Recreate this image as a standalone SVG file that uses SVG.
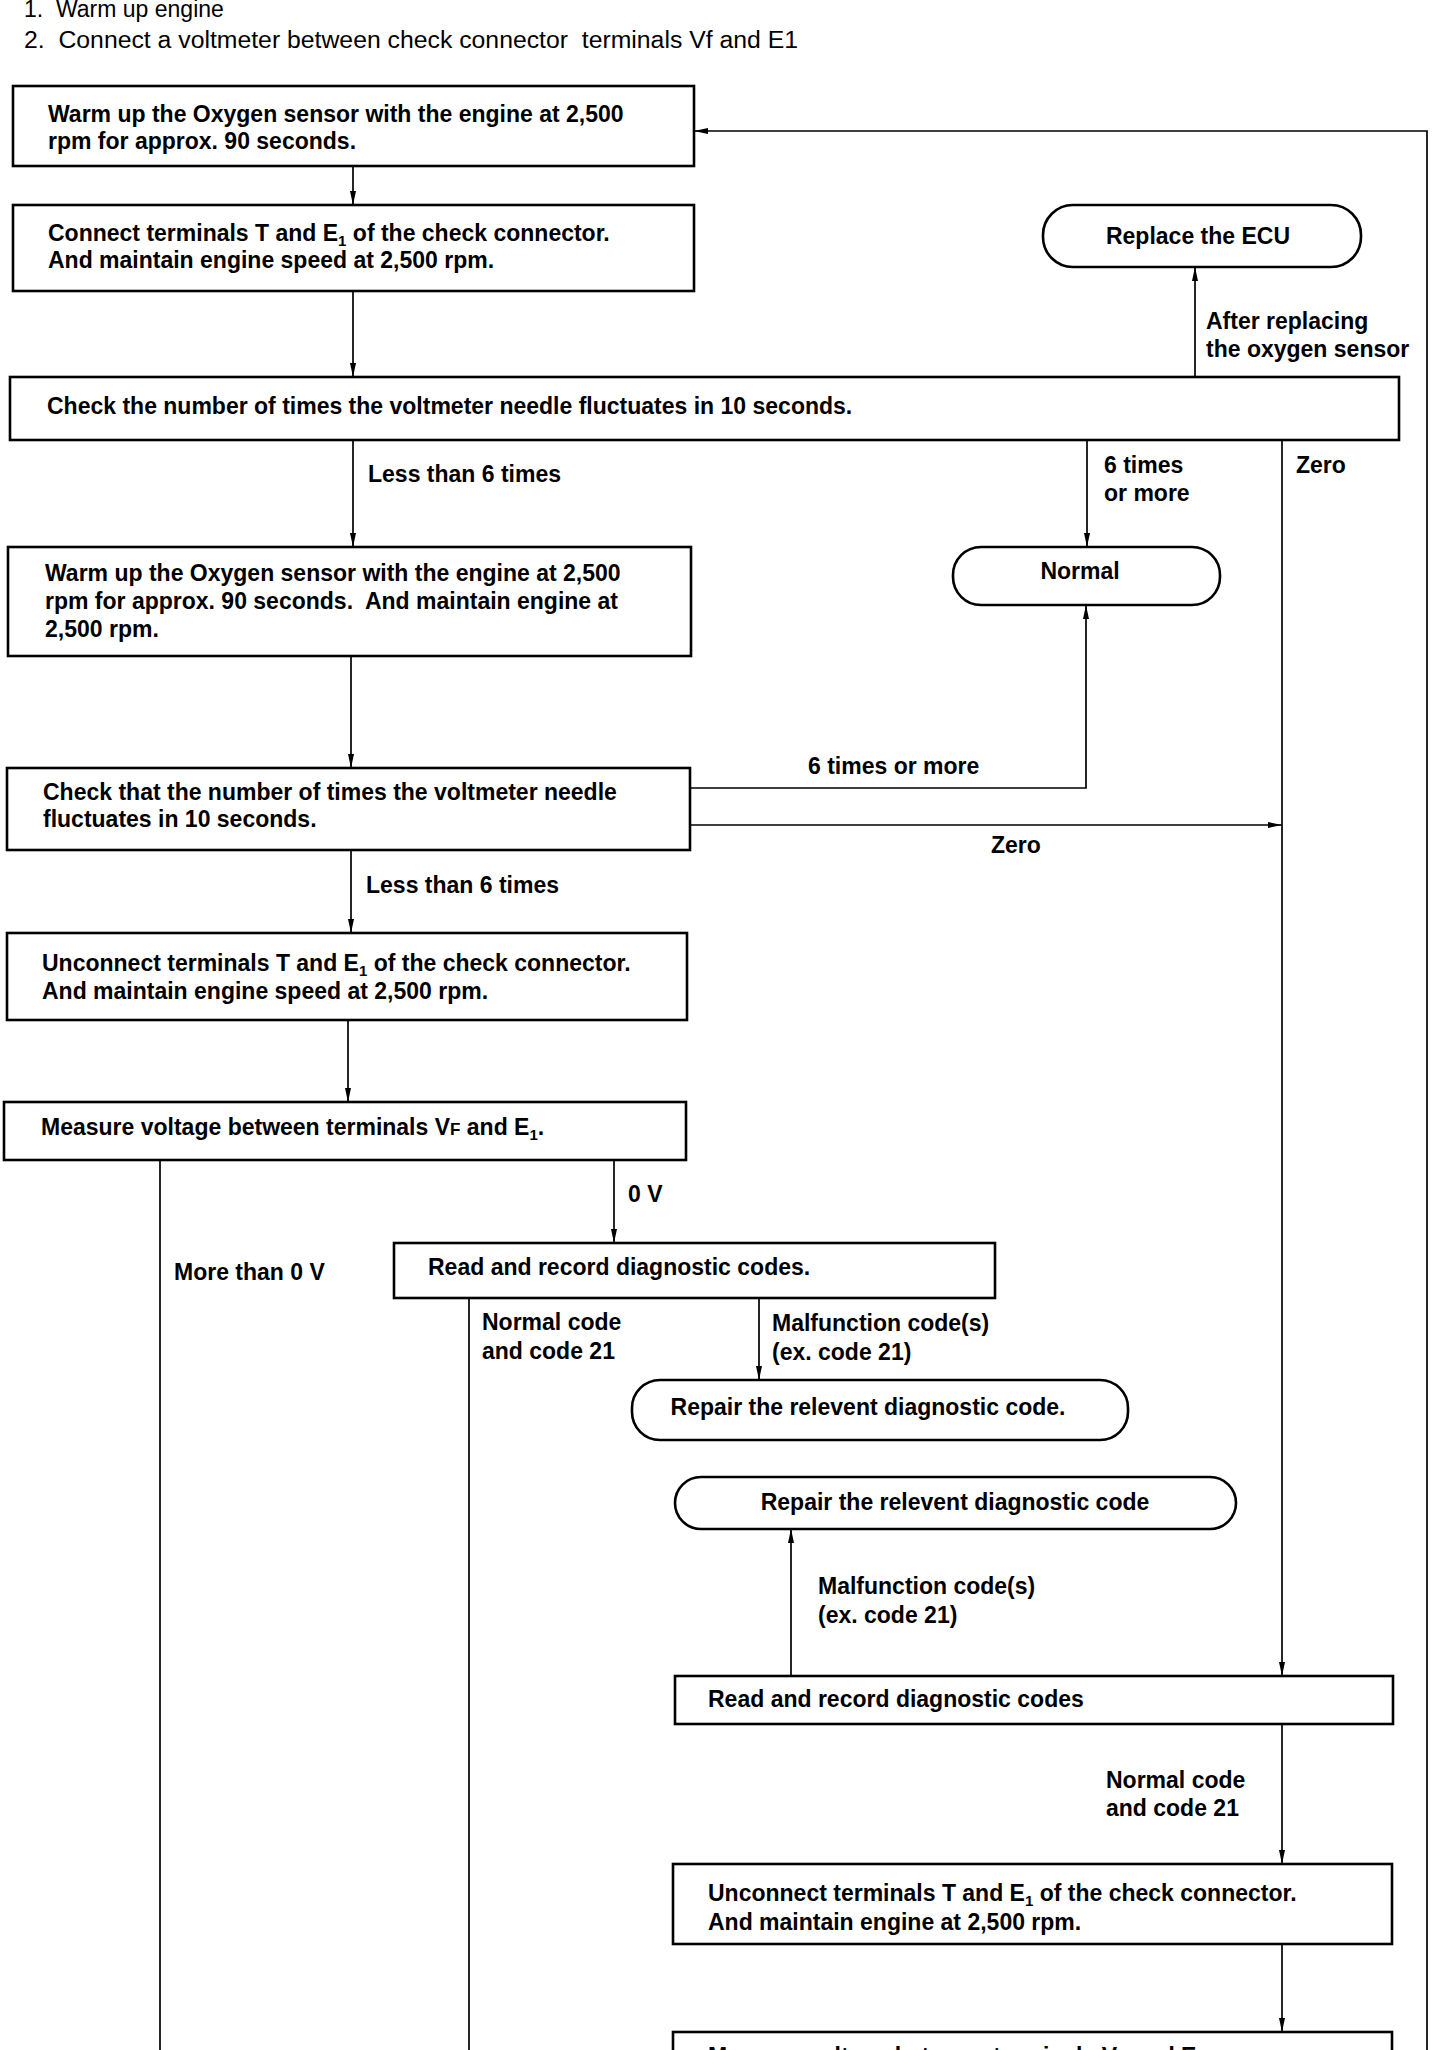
<svg xmlns="http://www.w3.org/2000/svg" width="1440" height="2050" viewBox="0 0 1440 2050">
<style>
.bg{fill:#fff}
.box{fill:#fff;stroke:#000;stroke-width:2.6}
.c{fill:none;stroke:#000;stroke-width:1.7}
.t{font-family:"Liberation Sans",Arial,sans-serif;font-weight:bold;font-size:23px;fill:#000}
.h{font-family:"Liberation Sans",Arial,sans-serif;font-size:23px;fill:#000}
.m{text-anchor:middle}
.s{font-size:15px}
.sc{font-size:17px}
</style>
<defs>
<marker id="a" viewBox="0 0 14 7" refX="14" refY="3.5" markerWidth="14" markerHeight="7" orient="auto" markerUnits="userSpaceOnUse"><path d="M0,0.5 L14,3.5 L0,6.5 z" fill="#000"/></marker>
</defs>
<rect class="bg" x="0" y="0" width="1440" height="2050"/>
<g id="header">
<text class="h" x="24" y="17" xml:space="preserve">1.  Warm up engine</text>
<text class="h" x="24" y="48" textLength="774" lengthAdjust="spacingAndGlyphs" xml:space="preserve">2.  Connect a voltmeter between check connector  terminals Vf and E1</text>
</g>
<g id="connectors">
<path class="c" d="M353,166 V205" marker-end="url(#a)"/>
<path class="c" d="M353,291 V377" marker-end="url(#a)"/>
<path class="c" d="M1195,377 V267" marker-end="url(#a)"/>
<path class="c" d="M1427,2050 V131 H694" marker-end="url(#a)"/>
<path class="c" d="M353,440 V547" marker-end="url(#a)"/>
<path class="c" d="M1087,440 V547" marker-end="url(#a)"/>
<path class="c" d="M1282,440 V1676" marker-end="url(#a)"/>
<path class="c" d="M351,656 V768" marker-end="url(#a)"/>
<path class="c" d="M690,788 H1086 V605" marker-end="url(#a)"/>
<path class="c" d="M690,825 H1282" marker-end="url(#a)"/>
<path class="c" d="M351,850 V933" marker-end="url(#a)"/>
<path class="c" d="M348,1020 V1102" marker-end="url(#a)"/>
<path class="c" d="M160,1160 V2050"/>
<path class="c" d="M614,1160 V1243" marker-end="url(#a)"/>
<path class="c" d="M469,1298 V2050"/>
<path class="c" d="M759,1298 V1380" marker-end="url(#a)"/>
<path class="c" d="M791,1676 V1529" marker-end="url(#a)"/>
<path class="c" d="M1282,1724 V1864" marker-end="url(#a)"/>
<path class="c" d="M1282,1944 V2032" marker-end="url(#a)"/>
<text class="t" x="1206" y="329">After replacing</text>
<text class="t" x="1206" y="357">the oxygen sensor</text>
<text class="t" x="368" y="482">Less than 6 times</text>
<text class="t" x="1104" y="473">6 times</text>
<text class="t" x="1104" y="501">or more</text>
<text class="t" x="1296" y="473">Zero</text>
<text class="t" x="808" y="774">6 times or more</text>
<text class="t" x="991" y="853">Zero</text>
<text class="t" x="366" y="893">Less than 6 times</text>
<text class="t" x="174" y="1280">More than 0 V</text>
<text class="t" x="628" y="1202">0 V</text>
<text class="t" x="482" y="1330">Normal code</text>
<text class="t" x="482" y="1359">and code 21</text>
<text class="t" x="772" y="1331">Malfunction code(s)</text>
<text class="t" x="772" y="1360">(ex. code 21)</text>
<text class="t" x="818" y="1594">Malfunction code(s)</text>
<text class="t" x="818" y="1623">(ex. code 21)</text>
<text class="t" x="1106" y="1788">Normal code</text>
<text class="t" x="1106" y="1816">and code 21</text>
</g>
<g id="n1">
<rect class="box" x="13" y="86" width="681" height="80"/>
<text class="t" x="48" y="122">Warm up the Oxygen sensor with the engine at 2,500</text>
<text class="t" x="48" y="149">rpm for approx. 90 seconds.</text>
</g>
<g id="n2">
<rect class="box" x="13" y="205" width="681" height="86"/>
<text class="t" x="48" y="241">Connect terminals T and E<tspan class="s" dy="5">1</tspan><tspan dy="-5"> of the check connector.</tspan></text>
<text class="t" x="48" y="268">And maintain engine speed at 2,500 rpm.</text>
</g>
<g id="n_ecu">
<rect class="box" x="1043" y="205" width="318" height="62" rx="30" ry="30"/>
<text class="t m" x="1198" y="244">Replace the ECU</text>
</g>
<g id="n3">
<rect class="box" x="10" y="377" width="1389" height="63"/>
<text class="t" x="47" y="414">Check the number of times the voltmeter needle fluctuates in 10 seconds.</text>
</g>
<g id="n_normal">
<rect class="box" x="953" y="547" width="267" height="58" rx="28" ry="28"/>
<text class="t m" x="1080" y="579">Normal</text>
</g>
<g id="n4">
<rect class="box" x="8" y="547" width="683" height="109"/>
<text class="t" x="45" y="581">Warm up the Oxygen sensor with the engine at 2,500</text>
<text class="t" x="45" y="609" xml:space="preserve">rpm for approx. 90 seconds.  And maintain engine at</text>
<text class="t" x="45" y="637">2,500 rpm.</text>
</g>
<g id="n5">
<rect class="box" x="7" y="768" width="683" height="82"/>
<text class="t" x="43" y="800">Check that the number of times the voltmeter needle</text>
<text class="t" x="43" y="827">fluctuates in 10 seconds.</text>
</g>
<g id="n6">
<rect class="box" x="7" y="933" width="680" height="87"/>
<text class="t" x="42" y="971">Unconnect terminals T and E<tspan class="s" dy="5">1</tspan><tspan dy="-5"> of the check connector.</tspan></text>
<text class="t" x="42" y="999">And maintain engine speed at 2,500 rpm.</text>
</g>
<g id="n7">
<rect class="box" x="4" y="1102" width="682" height="58"/>
<text class="t" x="41" y="1135">Measure voltage between terminals V<tspan class="sc">F</tspan> and E<tspan class="s" dy="5">1</tspan><tspan dy="-5">.</tspan></text>
</g>
<g id="n8">
<rect class="box" x="394" y="1243" width="601" height="55"/>
<text class="t" x="428" y="1275">Read and record diagnostic codes.</text>
</g>
<g id="n_repair1">
<rect class="box" x="632" y="1380" width="496" height="60" rx="28" ry="28"/>
<text class="t m" x="868" y="1415">Repair the relevent diagnostic code.</text>
</g>
<g id="n_repair2">
<rect class="box" x="675" y="1477" width="561" height="52" rx="26" ry="26"/>
<text class="t m" x="955" y="1510">Repair the relevent diagnostic code</text>
</g>
<g id="n9">
<rect class="box" x="675" y="1676" width="718" height="48"/>
<text class="t" x="708" y="1707">Read and record diagnostic codes</text>
</g>
<g id="n10">
<rect class="box" x="673" y="1864" width="719" height="80"/>
<text class="t" x="708" y="1901">Unconnect terminals T and E<tspan class="s" dy="5">1</tspan><tspan dy="-5"> of the check connector.</tspan></text>
<text class="t" x="708" y="1930">And maintain engine at 2,500 rpm.</text>
</g>
<g id="n11">
<rect class="box" x="673" y="2032" width="719" height="60"/>
<text class="t" x="708" y="2064">Measure voltage between terminals V<tspan class="sc">F</tspan> and E<tspan class="s" dy="5">1</tspan></text>
</g>
</svg>
